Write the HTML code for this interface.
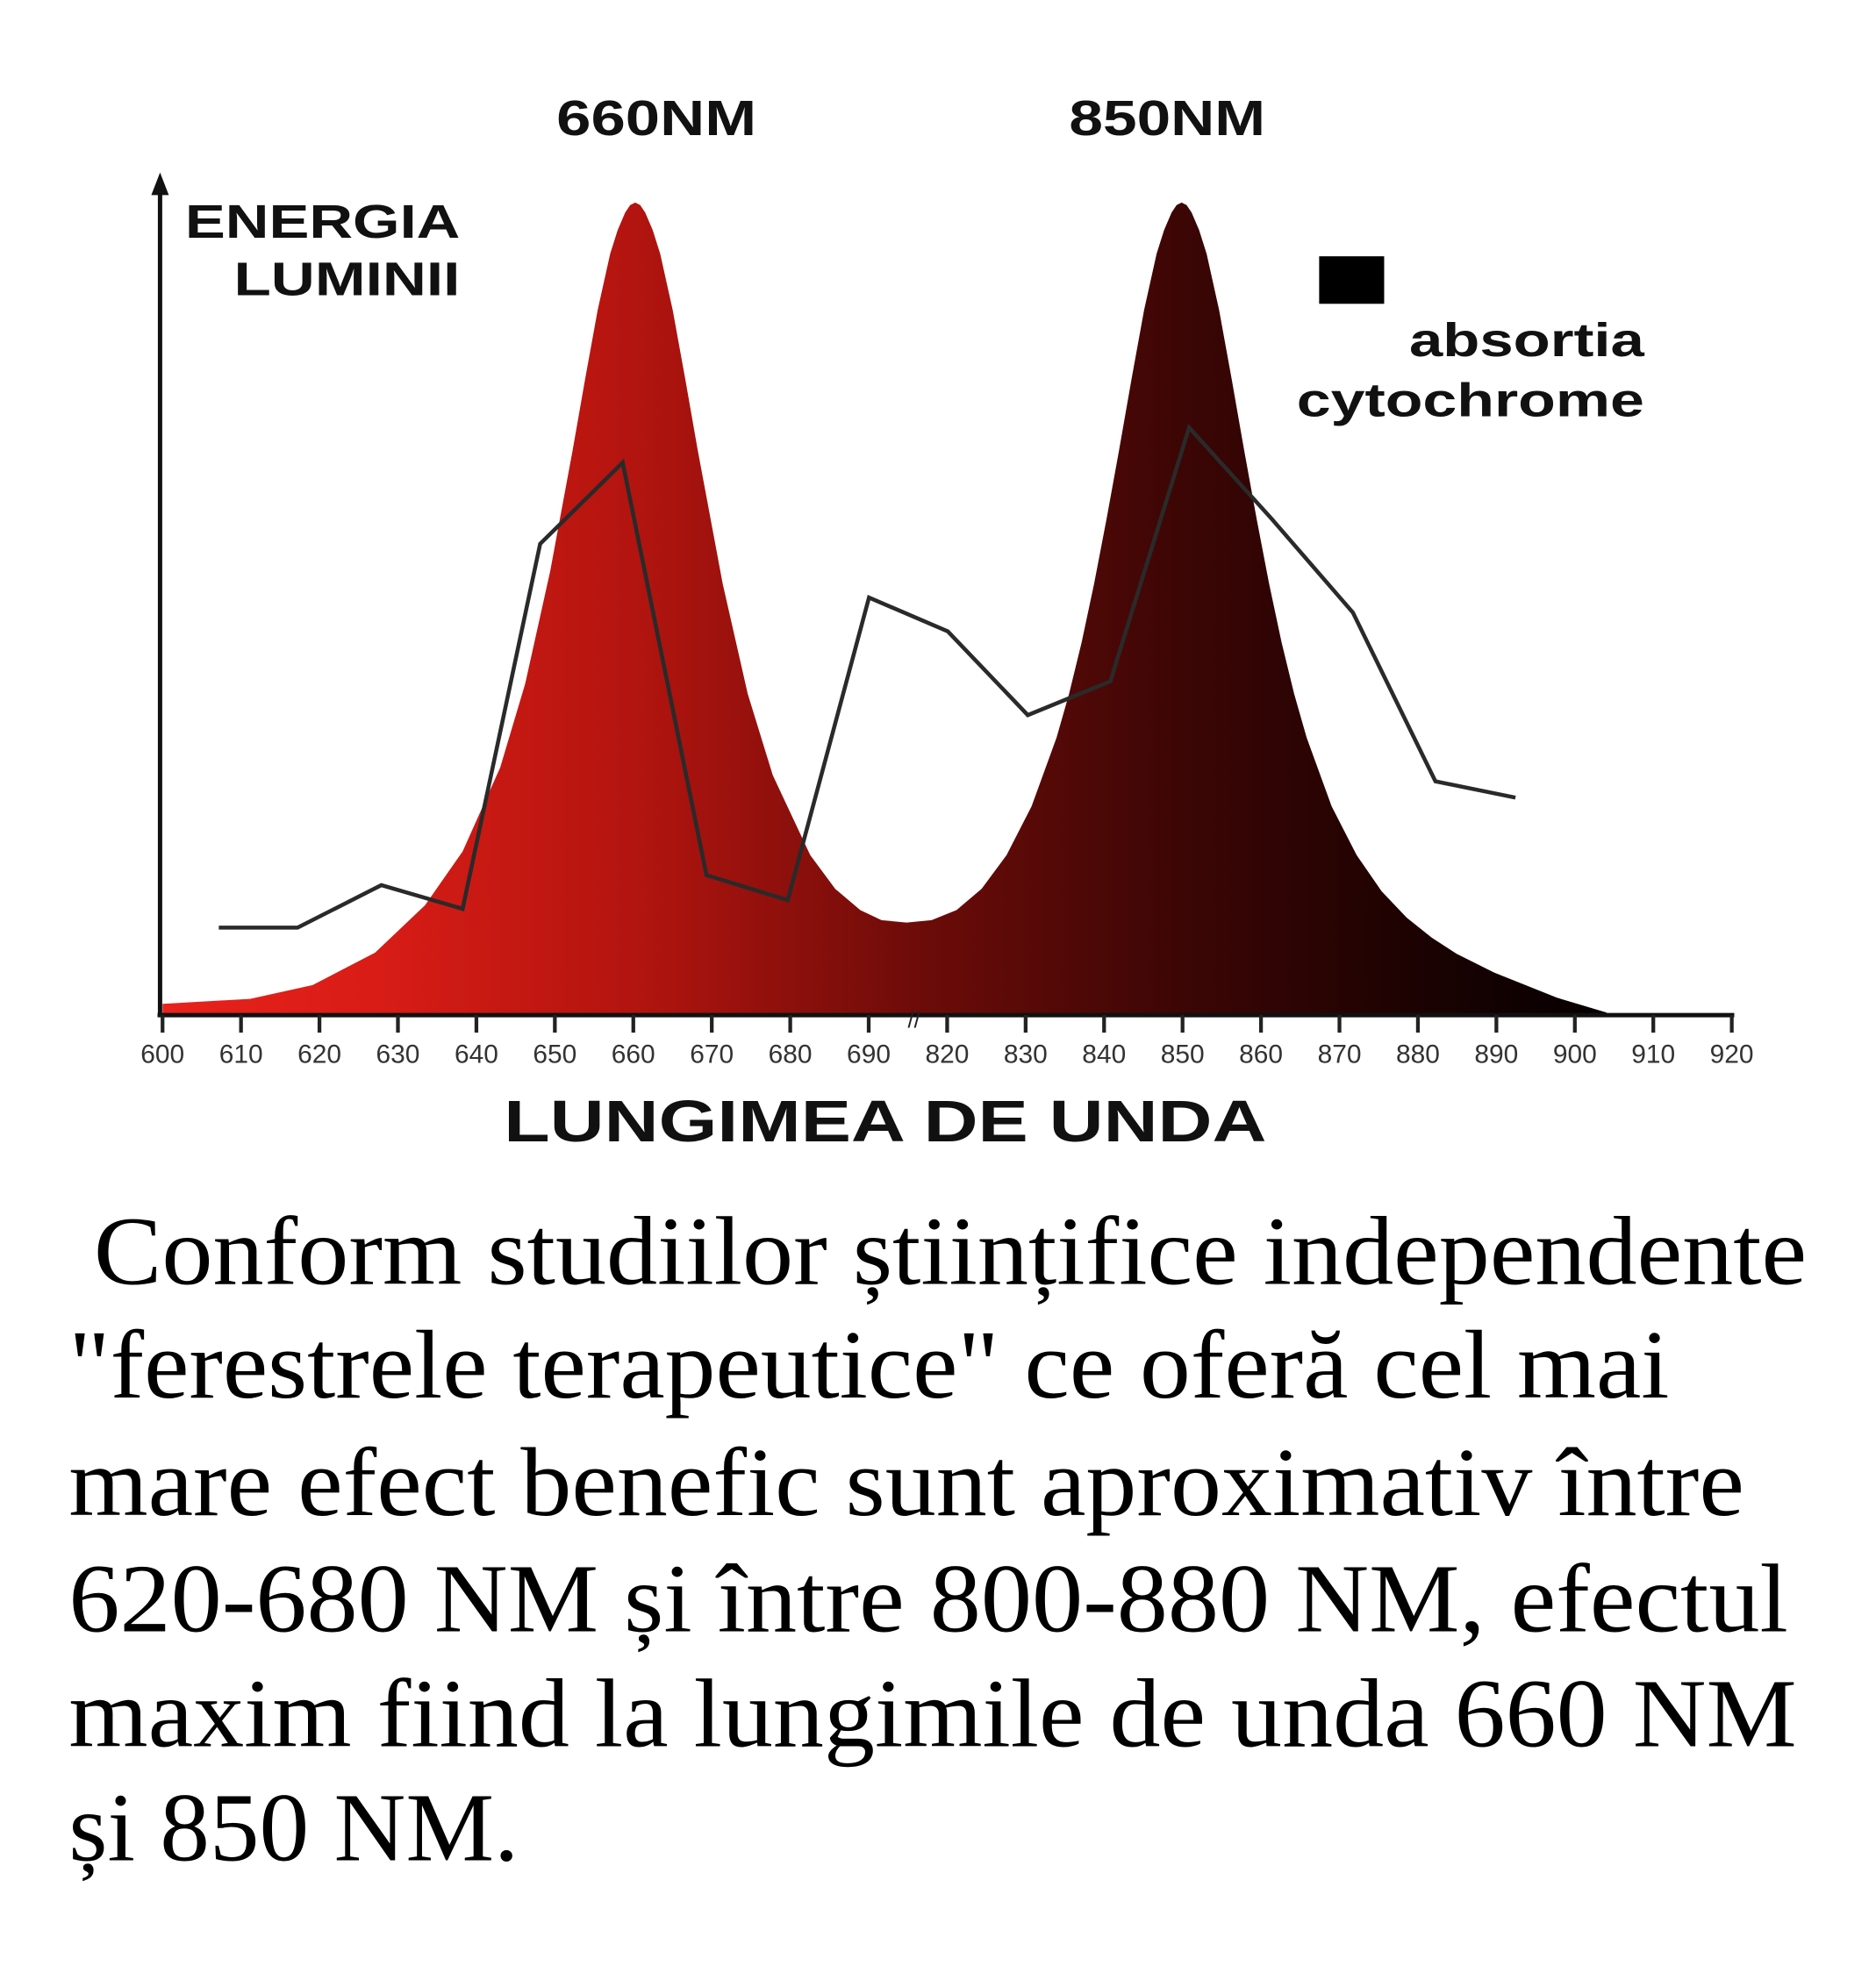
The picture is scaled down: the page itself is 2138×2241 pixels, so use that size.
<!DOCTYPE html>
<html><head><meta charset="utf-8"><style>
html,body{margin:0;padding:0;background:#fff;}
svg{display:block;}
</style></head><body>
<svg width="2138" height="2241" viewBox="0 0 1500.35 1572.6" xmlns="http://www.w3.org/2000/svg">
<defs>
<linearGradient id="g" x1="130" y1="0" x2="1285" y2="0" gradientUnits="userSpaceOnUse">
<stop offset="0" stop-color="#e8221c"/>
<stop offset="0.15" stop-color="#d81c16"/>
<stop offset="0.33" stop-color="#b2140f"/>
<stop offset="0.52" stop-color="#6e0c09"/>
<stop offset="0.70" stop-color="#3d0605"/>
<stop offset="0.87" stop-color="#1c0202"/>
<stop offset="1" stop-color="#050000"/>
</linearGradient>
</defs>
<path fill="url(#g)" d="M130,812 L130,803 L200,799 L250,788 L300,762 L340,724 L370,681 L400,614 L420,547 L440,457 L458,360 L468,303 L478,248 L488,203 L494,184 L500,170 L504,164 L508,162 L512,164 L516,170 L522,184 L528,203 L538,248 L548,303 L558,360 L578,467 L598,555 L618,620 L648,684 L668,711 L688,728 L705,736 L725,738 L745,736 L765,728 L785,711 L805,684 L825,645 L845,590 L855,555 L865,514 L875,467 L885,415 L895,360 L905,303 L915,248 L925,203 L931,184 L937,170 L941,164 L945,162 L949,164 L953,170 L959,184 L965,203 L975,248 L985,303 L995,360 L1005,415 L1015,467 L1025,514 L1035,555 L1045,590 L1065,645 L1085,684 L1105,713 L1125,734 L1145,750 L1165,763 L1195,778 L1245,798 L1285,810 L1285,812 Z"/>
<g font-family="Liberation Sans, Arial, sans-serif" font-weight="bold" fill="#111">
<text x="445" y="108" font-size="40" textLength="160" lengthAdjust="spacingAndGlyphs">660NM</text>
<text x="855" y="108" font-size="40" textLength="157" lengthAdjust="spacingAndGlyphs">850NM</text>
<text x="148" y="190" font-size="38" textLength="220" lengthAdjust="spacingAndGlyphs">ENERGIA</text>
<text x="187" y="236" font-size="38" textLength="181" lengthAdjust="spacingAndGlyphs">LUMINII</text>
<text x="1127" y="285" font-size="38" textLength="188" lengthAdjust="spacingAndGlyphs">absortia</text>
<text x="1037" y="333" font-size="38" textLength="278" lengthAdjust="spacingAndGlyphs">cytochrome</text>
<text x="403" y="913" font-size="47" textLength="610" lengthAdjust="spacingAndGlyphs">LUNGIMEA DE UNDA</text>
</g>
<rect x="1055" y="205" width="52" height="38" fill="#000"/>
<line x1="128" y1="148" x2="128" y2="813" stroke="#111" stroke-width="3.5"/>
<polygon points="128,138 121,156 135,156" fill="#111"/>
<line x1="126" y1="812" x2="1387" y2="812" stroke="#111" stroke-width="3.5"/>
<g stroke="#222" stroke-width="3">
<line x1="130" y1="812" x2="130" y2="826"/><line x1="192.75" y1="812" x2="192.75" y2="826"/><line x1="255.5" y1="812" x2="255.5" y2="826"/><line x1="318.25" y1="812" x2="318.25" y2="826"/><line x1="381" y1="812" x2="381" y2="826"/><line x1="443.75" y1="812" x2="443.75" y2="826"/><line x1="506.5" y1="812" x2="506.5" y2="826"/><line x1="569.25" y1="812" x2="569.25" y2="826"/><line x1="632" y1="812" x2="632" y2="826"/><line x1="694.75" y1="812" x2="694.75" y2="826"/><line x1="757.5" y1="812" x2="757.5" y2="826"/><line x1="820.25" y1="812" x2="820.25" y2="826"/><line x1="883" y1="812" x2="883" y2="826"/><line x1="945.75" y1="812" x2="945.75" y2="826"/><line x1="1008.5" y1="812" x2="1008.5" y2="826"/><line x1="1071.25" y1="812" x2="1071.25" y2="826"/><line x1="1134" y1="812" x2="1134" y2="826"/><line x1="1196.75" y1="812" x2="1196.75" y2="826"/><line x1="1259.5" y1="812" x2="1259.5" y2="826"/><line x1="1322.25" y1="812" x2="1322.25" y2="826"/><line x1="1385" y1="812" x2="1385" y2="826"/>
</g>
<g font-family="Liberation Sans, Arial, sans-serif" font-size="21" fill="#333" text-anchor="middle">
<text x="130" y="850">600</text><text x="192.75" y="850">610</text><text x="255.5" y="850">620</text><text x="318.25" y="850">630</text><text x="381" y="850">640</text><text x="443.75" y="850">650</text><text x="506.5" y="850">660</text><text x="569.25" y="850">670</text><text x="632" y="850">680</text><text x="694.75" y="850">690</text><text x="757.5" y="850">820</text><text x="820.25" y="850">830</text><text x="883" y="850">840</text><text x="945.75" y="850">850</text><text x="1008.5" y="850">860</text><text x="1071.25" y="850">870</text><text x="1134" y="850">880</text><text x="1196.75" y="850">890</text><text x="1259.5" y="850">900</text><text x="1322.25" y="850">910</text><text x="1385" y="850">920</text>
</g>
<text x="726" y="822" font-size="18" font-family="Liberation Sans, sans-serif" fill="#222">//</text>
<polyline fill="none" stroke="#2a2a2a" stroke-width="3.2" stroke-linejoin="miter" points="175,742 238,742 305,708 370,727 432,435 498,370 565,700 630,720 695,478 758,505 822,572 888,545 951,342 1017,415 1082,490 1148,625 1212,638"/>
<g font-family="Liberation Serif, 'Times New Roman', serif" font-size="78" fill="#000">
<text x="75" y="1027" textLength="1370" lengthAdjust="spacingAndGlyphs">Conform studiilor științifice independente</text>
<text x="55" y="1118" textLength="1280" lengthAdjust="spacingAndGlyphs">"ferestrele terapeutice" ce oferă cel mai</text>
<text x="55" y="1212" textLength="1340" lengthAdjust="spacingAndGlyphs">mare efect benefic sunt aproximativ între</text>
<text x="55" y="1305" textLength="1375" lengthAdjust="spacingAndGlyphs">620-680 NM și între 800-880 NM, efectul</text>
<text x="55" y="1397" textLength="1382" lengthAdjust="spacingAndGlyphs">maxim fiind la lungimile de unda 660 NM</text>
<text x="55" y="1488" textLength="360" lengthAdjust="spacingAndGlyphs">și 850 NM.</text>
</g>
</svg>
</body></html>
